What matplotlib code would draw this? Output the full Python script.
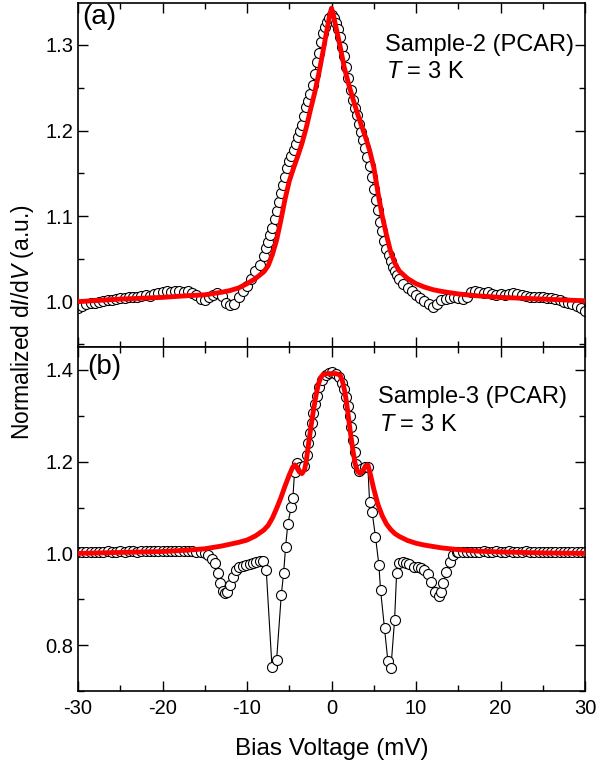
import numpy as np
import matplotlib
matplotlib.use("Agg")
import matplotlib.pyplot as plt
from matplotlib.ticker import MultipleLocator

plt.rcParams['font.family'] = ['Liberation Sans', 'DejaVu Sans']
plt.rcParams['mathtext.fontset'] = 'custom'
plt.rcParams['mathtext.rm'] = 'Liberation Sans'
plt.rcParams['mathtext.it'] = 'Liberation Sans:italic'
plt.rcParams['axes.unicode_minus'] = False

# ---- panel (a): Sample-2 data ----
bias_a = [-30, -29.5, -29, -28.5, -28, -27.5, -27, -26.5, -26, -25.5, -25, -24.5, -24, -23.5,
          -23, -22.5, -22, -21.5, -21, -20.5, -20, -19.5, -19, -18.5, -18, -17.5, -17, -16.5,
          -16, -15.5, -15, -14.5, -14, -13.5, -13, -12.5, -12, -11.5, -11, -10.5, -10, -9.5,
          -9, -8.5, -8,
          -7.75, -7.5, -7.25, -7, -6.75, -6.5, -6.25, -6, -5.75, -5.5, -5.25, -5, -4.75, -4.5,
          -4.25, -4, -3.75, -3.5, -3.25, -3, -2.75, -2.5, -2.25, -2, -1.75, -1.5, -1.25, -1,
          -0.75, -0.5, -0.25, 0, 0.25, 0.5, 0.75, 1, 1.25, 1.5, 1.75, 2, 2.25, 2.5, 2.75, 3,
          3.25, 3.5, 3.75, 4, 4.25, 4.5, 4.75, 5, 5.25, 5.5, 5.75, 6, 6.25, 6.5, 6.75, 7, 7.25,
          7.5, 7.75,
          8, 8.5, 9, 9.5, 10, 10.5, 11, 11.5, 12, 12.5, 13, 13.5, 14, 14.5, 15, 15.5, 16, 16.5,
          17, 17.5, 18, 18.5, 19, 19.5, 20, 20.5, 21, 21.5, 22, 22.5, 23, 23.5, 24, 24.5, 25,
          25.5, 26, 26.5, 27, 27.5, 28, 28.5, 29, 29.5, 30]
didv_a = [0.993, 0.995, 0.997, 0.998, 0.999, 1.000, 1.001, 1.002, 1.002, 1.003, 1.004, 1.004,
          1.005, 1.005, 1.006, 1.007, 1.008, 1.007, 1.009, 1.010, 1.011, 1.012, 1.011, 1.012,
          1.012, 1.011, 1.012, 1.010, 1.008, 1.003, 1.002, 1.005, 1.008, 1.010, 1.007, 0.999,
          0.996, 0.997, 1.005, 1.012, 1.018, 1.026, 1.036, 1.043, 1.053,
          1.063, 1.070, 1.078, 1.086, 1.097, 1.106, 1.117, 1.127, 1.136, 1.146, 1.156, 1.164,
          1.170, 1.177, 1.184, 1.192, 1.199, 1.206, 1.217, 1.228, 1.235, 1.243, 1.253, 1.266,
          1.280, 1.291, 1.303, 1.314, 1.321, 1.327, 1.332, 1.335, 1.331, 1.326, 1.319, 1.309,
          1.298, 1.287, 1.274, 1.261, 1.247, 1.236, 1.226, 1.218, 1.208, 1.198, 1.189, 1.180,
          1.169, 1.158, 1.146, 1.132, 1.119, 1.107, 1.093, 1.082, 1.071, 1.062, 1.054, 1.047,
          1.041, 1.036, 1.031,
          1.026, 1.021, 1.016, 1.012, 1.008, 1.004, 1.001, 0.997, 0.994, 0.997, 1.002, 1.003,
          1.004, 1.005, 1.004, 1.003, 1.006, 1.011, 1.012, 1.011, 1.010, 1.011, 1.009, 1.008,
          1.009, 1.008, 1.009, 1.010, 1.009, 1.008, 1.007, 1.006, 1.006, 1.005, 1.005, 1.004,
          1.004, 1.003, 1.002, 1.000, 0.999, 0.997, 0.995, 0.992, 0.989]

fit_bias_a = [-30, -25, -20, -17, -15, -13, -12, -11, -10, -9, -8, -7.5, -7, -6.5, -6, -5.5, -5,
              -4.5, -4, -3.5, -3, -2.5, -2, -1.5, -1, -0.5, -0.2, 0, 0.2, 0.5, 1, 1.5, 2, 2.5,
              3, 3.5, 4, 4.5, 5, 5.5, 6, 6.5, 7, 7.5, 8, 9, 10, 11, 12, 13, 15, 17, 20, 25, 30]
fit_a = [1.000, 1.003, 1.005, 1.007, 1.008, 1.011, 1.013, 1.016, 1.021, 1.027, 1.035, 1.042,
         1.055, 1.072, 1.095, 1.120, 1.141, 1.156, 1.170, 1.185, 1.203, 1.224, 1.244, 1.267,
         1.293, 1.320, 1.336, 1.343, 1.336, 1.322, 1.299, 1.274, 1.255, 1.238, 1.222, 1.207,
         1.193, 1.177, 1.157, 1.127, 1.100, 1.078, 1.058, 1.045, 1.036, 1.027, 1.021, 1.017,
         1.014, 1.012, 1.009, 1.007, 1.005, 1.003, 1.001]

# ---- panel (b): Sample-3 data ----
bias_b = [-30, -29.5, -29, -28.5, -28, -27.5, -27, -26.5, -26, -25.5, -25, -24.5, -24, -23.5,
          -23, -22.5, -22, -21.5, -21, -20.5, -20, -19.5, -19, -18.5, -18, -17.5, -17, -16.5,
          -16, -15.5, -15,
          -14.6, -14.2, -13.85, -13.45, -13.25, -12.9, -12.66, -12.35, -12.07, -11.7, -11.3,
          -10.9, -10.5, -10.1, -9.7, -9.3, -8.9, -8.5, -8.1, -7.73, -7.05, -6.5, -5.95, -5.67,
          -5.44, -5.17, -4.77, -4.58, -4.38, -4.06, -3.7, -3.3, -2.95, -2.75, -2.55, -2.35,
          -2.15, -1.95, -1.75, -1.45, -1.1, -0.7, -0.3, 0.1, 0.5, 0.9, 1.2, 1.5, 1.75, 1.95,
          2.15, 2.35, 2.55, 2.72, 2.9, 3.2, 3.5, 3.9, 4.3, 4.5, 4.8, 5.2, 5.6, 5.8, 6.27, 6.66,
          7.03, 7.46, 7.7, 8.0, 8.4, 8.8, 9.2, 9.8, 10.2, 10.6, 11.0, 11.4, 11.8, 12.2, 12.7,
          13.0, 13.2, 13.6, 14.0, 14.4, 14.8,
          15, 15.5, 16, 16.5, 17, 17.5, 18, 18.5, 19, 19.5, 20, 20.5, 21, 21.5, 22, 22.5, 23,
          23.5, 24, 24.5, 25, 25.5, 26, 26.5, 27, 27.5, 28, 28.5, 29, 29.5, 30]
didv_b = [1.003, 1.004, 1.003, 1.004, 1.004, 1.003, 1.004, 1.005, 1.004, 1.004, 1.005, 1.004,
          1.005, 1.005, 1.004, 1.005, 1.005, 1.006, 1.005, 1.005, 1.006, 1.005, 1.006, 1.006,
          1.005, 1.006, 1.005, 1.005, 1.004, 1.003, 1.001,
          0.996, 0.988, 0.978, 0.957, 0.935, 0.918, 0.913, 0.916, 0.931, 0.948, 0.964, 0.970,
          0.973, 0.975, 0.977, 0.978, 0.981, 0.983, 0.983, 0.964, 0.753, 0.768, 0.909, 0.957,
          1.014, 1.065, 1.101, 1.120, 1.177, 1.196, 1.188, 1.190, 1.215, 1.240, 1.262, 1.285,
          1.305, 1.326, 1.344, 1.362, 1.377, 1.388, 1.394, 1.395, 1.392, 1.384, 1.372, 1.358,
          1.340, 1.322, 1.300, 1.275, 1.248, 1.220, 1.195, 1.180, 1.185, 1.188, 1.188, 1.112,
          1.090, 1.036, 0.975, 0.920, 0.837, 0.766, 0.751, 0.855, 0.957, 0.978, 0.982, 0.980,
          0.977, 0.971, 0.970, 0.967, 0.964, 0.955, 0.938, 0.916, 0.906, 0.915, 0.935, 0.960,
          0.981, 0.996, 1.002,
          1.003, 1.004, 1.004, 1.003, 1.004, 1.004, 1.005, 1.004, 1.004, 1.005, 1.004, 1.004,
          1.005, 1.004, 1.004, 1.004, 1.005, 1.004, 1.004, 1.004, 1.003, 1.004, 1.004, 1.003,
          1.004, 1.003, 1.003, 1.004, 1.003, 1.003, 1.003]

fit_bias_b = [-30, -25, -20, -17, -15, -13, -11, -10, -9, -8, -7.5, -7, -6.5, -6, -5.5, -5,
              -4.6, -4.35, -4.1, -3.8, -3.5, -3.2, -3.0, -2.8, -2.5, -2.2, -1.9, -1.6, -1.3,
              -1.0, -0.5, 0, 0.5, 1.0, 1.3, 1.6, 1.9, 2.2, 2.5, 2.8, 3.1, 3.4, 3.7, 4.0, 4.3,
              4.6, 5.0, 5.5, 6.0, 6.5, 7.0, 7.5, 8, 9, 10, 11, 13, 15, 17, 20, 25, 30]
fit_b = [1.000, 1.002, 1.004, 1.007, 1.010, 1.016, 1.024, 1.029, 1.038, 1.051, 1.061, 1.077,
         1.098, 1.121, 1.147, 1.171, 1.188, 1.193, 1.188, 1.177, 1.174, 1.182, 1.200, 1.228,
         1.268, 1.305, 1.338, 1.366, 1.383, 1.390, 1.392, 1.392, 1.392, 1.389, 1.375, 1.350,
         1.312, 1.268, 1.228, 1.195, 1.178, 1.174, 1.180, 1.190, 1.193, 1.172, 1.140, 1.106,
         1.082, 1.064, 1.052, 1.043, 1.037, 1.028, 1.022, 1.018, 1.012, 1.008, 1.005, 1.003,
         1.001, 1.000]

fig = plt.figure(figsize=(5.97, 7.66), dpi=100)
ax1 = fig.add_axes([0.1307, 0.547, 0.8493, 0.449])
ax2 = fig.add_axes([0.1307, 0.098, 0.8493, 0.449], sharex=ax1)

def style(ax):
    ax.tick_params(which='both', direction='in', top=True, right=True, width=1.0,
                   labelsize=14.5)
    ax.tick_params(which='major', length=7)
    ax.tick_params(which='minor', length=4)
    ax.tick_params(axis='x', pad=6)
    for sp in ax.spines.values():
        sp.set_linewidth(1.2)

ax1.plot(bias_a, didv_a, '-', color='black', lw=0.8, marker='o', ms=7.2,
         mfc='white', mec='black', mew=0.8, zorder=2)
ax1.plot(fit_bias_a, fit_a, '-', color='#ff0000', lw=3.5, zorder=3)
ax1.set_ylim(0.947, 1.349)
ax1.yaxis.set_major_locator(MultipleLocator(0.1))
ax1.yaxis.set_minor_locator(MultipleLocator(0.05))
ax1.yaxis.set_major_formatter(lambda v, p: f"{v:.1f}")
style(ax1)
plt.setp(ax1.get_xticklabels(), visible=False)

ax2.plot(bias_b, didv_b, '-', color='black', lw=0.8, marker='o', ms=7.2,
         mfc='white', mec='black', mew=0.8, zorder=2)
ax2.plot(fit_bias_b, fit_b, '-', color='#ff0000', lw=3.5, zorder=3)
ax2.set_ylim(0.70, 1.45)
ax2.yaxis.set_major_locator(MultipleLocator(0.2))
ax2.yaxis.set_minor_locator(MultipleLocator(0.1))
ax2.yaxis.set_major_formatter(lambda v, p: f"{v:.1f}")
style(ax2)

ax2.set_xlim(-30, 30)
ax2.xaxis.set_major_locator(MultipleLocator(10))
ax2.xaxis.set_minor_locator(MultipleLocator(5))
ax2.set_xlabel('Bias Voltage (mV)', fontsize=17.5, labelpad=14)

ax1.text(0.008, 0.997, '(a)', transform=ax1.transAxes, fontsize=20, va='top', ha='left')
ax1.text(0.605, 0.878, 'Sample-2 (PCAR)', transform=ax1.transAxes, fontsize=17, va='center')
ax1.text(0.607, 0.80, r'$\mathit{T}$ = 3 K', transform=ax1.transAxes, fontsize=17, va='center')

ax2.text(0.018, 0.942, '(b)', transform=ax2.transAxes, fontsize=20, va='center', ha='left')
ax2.text(0.592, 0.855, 'Sample-3 (PCAR)', transform=ax2.transAxes, fontsize=17, va='center')
ax2.text(0.594, 0.773, r'$\mathit{T}$ = 3 K', transform=ax2.transAxes, fontsize=17, va='center')

fig.text(0.037, 0.580, r'Normalized d$\mathit{I}$/d$\mathit{V}$ (a.u.)', rotation=90,
         fontsize=16.5, va='center', ha='center')

fig.savefig('out.png', dpi=100)
